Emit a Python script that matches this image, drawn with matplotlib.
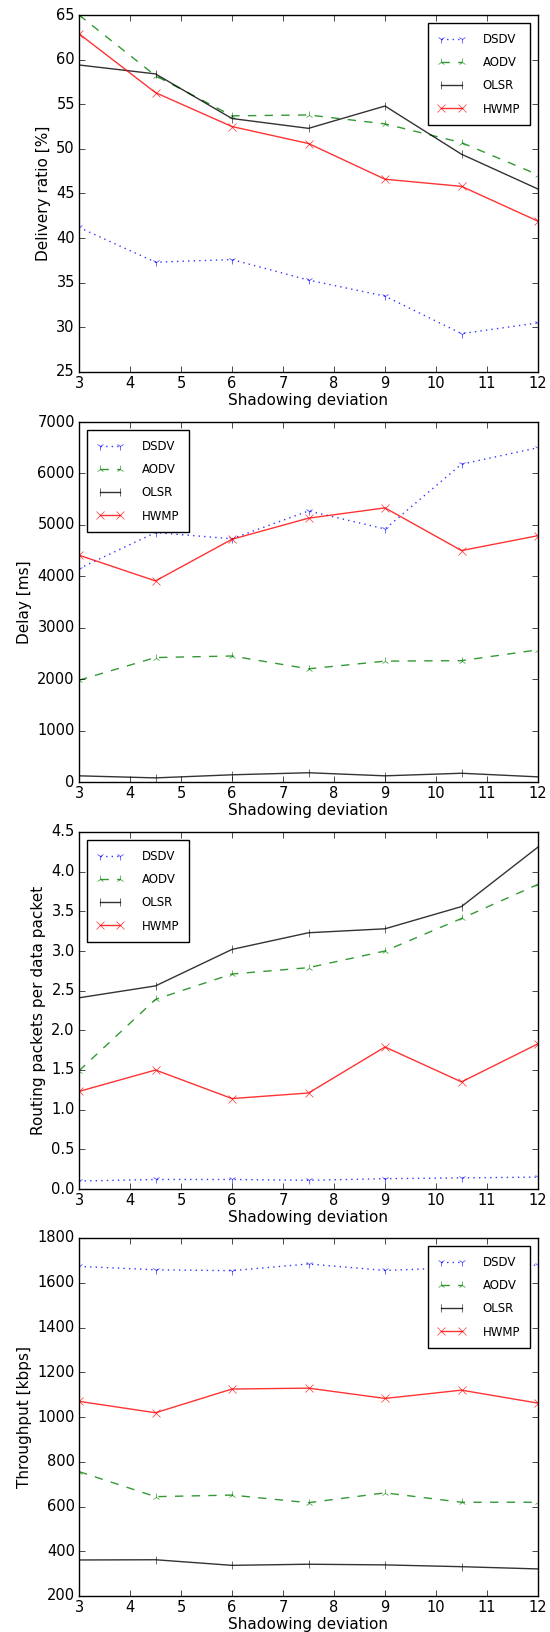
import matplotlib
matplotlib.use("Agg")
import matplotlib.pyplot as plt

x = [3, 4.5, 6, 7.5, 9, 10.5, 12]
protocols = ["DSDV", "AODV", "OLSR", "HWMP"]

delivery_dsdv = [41.2, 37.3, 37.6, 35.3, 33.5, 29.3, 30.5]
delivery_aodv = [65.0, 58.2, 53.7, 53.8, 52.8, 50.7, 47.1]
delivery_olsr = [59.4, 58.4, 53.4, 52.3, 54.8, 49.4, 45.5]
delivery_hwmp = [62.9, 56.3, 52.5, 50.6, 46.6, 45.8, 41.9]

delay_dsdv = [4150, 4850, 4730, 5270, 4920, 6180, 6500]
delay_aodv = [1980, 2420, 2450, 2200, 2350, 2360, 2570]
delay_olsr = [120, 80, 140, 180, 120, 170, 100]
delay_hwmp = [4410, 3910, 4720, 5130, 5330, 4500, 4790]

routing_dsdv = [0.10, 0.12, 0.12, 0.11, 0.13, 0.14, 0.15]
routing_aodv = [1.49, 2.39, 2.71, 2.79, 3.00, 3.41, 3.84]
routing_olsr = [2.41, 2.56, 3.02, 3.23, 3.28, 3.56, 4.31]
routing_hwmp = [1.23, 1.50, 1.14, 1.21, 1.79, 1.35, 1.83]

thr_dsdv = [1673, 1658, 1654, 1684, 1655, 1668, 1679]
thr_aodv = [756, 644, 651, 617, 661, 619, 619]
thr_olsr = [361, 362, 337, 342, 339, 331, 321]
thr_hwmp = [1070, 1019, 1125, 1129, 1083, 1120, 1062]

xlabel = "Shadowing deviation"
ylabels = ["Delivery ratio [%]", "Delay [ms]", "Routing packets per data packet", "Throughput [kbps]"]
ylims = [(25, 65), (0, 7000), (0, 4.5), (200, 1800)]
yticks = [list(range(25, 66, 5)), list(range(0, 7001, 1000)),
          [0.0, 0.5, 1.0, 1.5, 2.0, 2.5, 3.0, 3.5, 4.0, 4.5], list(range(200, 1801, 200))]
legend_locs = ["upper right", "upper left", "upper left", "upper right"]

panels = [
    [delivery_dsdv, delivery_aodv, delivery_olsr, delivery_hwmp],
    [delay_dsdv, delay_aodv, delay_olsr, delay_hwmp],
    [routing_dsdv, routing_aodv, routing_olsr, routing_hwmp],
    [thr_dsdv, thr_aodv, thr_olsr, thr_hwmp],
]

styles = [
    dict(color="b", linestyle=":", marker="1"),
    dict(color="g", linestyle="--", marker="2"),
    dict(color="k", linestyle="-", marker="|"),
    dict(color="r", linestyle="-", marker="x"),
]

plt.style.use("classic")
plt.rcParams["font.family"] = ["DejaVu Sans"]
plt.rcParams["figure.facecolor"] = "white"
plt.rcParams["savefig.facecolor"] = "white"

fig = plt.figure(figsize=(5.5, 16.32), dpi=100)

L, R = 79 / 550, 538 / 550
tops = [15, 422, 832, 1238]
bottoms = [372, 782, 1189, 1596]
H = 1632

for i in range(4):
    ax = fig.add_axes([L, 1 - bottoms[i] / H, R - L, (bottoms[i] - tops[i]) / H])
    for name, ys, st in zip(protocols, panels[i], styles):
        ax.plot(x, ys, label=name, linewidth=1.0, markersize=6, alpha=0.8, **st)
    ax.set_xlim(3, 12)
    ax.set_ylim(*ylims[i])
    ax.set_xticks(range(3, 13))
    ax.set_yticks(yticks[i])
    ax.tick_params(labelsize=10.5, direction="in", top=True, right=True, length=4, pad=3)
    ax.set_xlabel(xlabel, fontsize=11, labelpad=1)
    ax.set_ylabel(ylabels[i], fontsize=11, labelpad=4)
    leg = ax.legend(loc=legend_locs[i], fontsize=8.5, numpoints=2, fancybox=False,
                    handlelength=2.3, handletextpad=1.5, labelspacing=0.87,
                    borderpad=0.8, borderaxespad=0.7)
    leg.get_frame().set_edgecolor("k")
    leg.get_frame().set_linewidth(1.0)

fig.savefig("out.png", dpi=100)
